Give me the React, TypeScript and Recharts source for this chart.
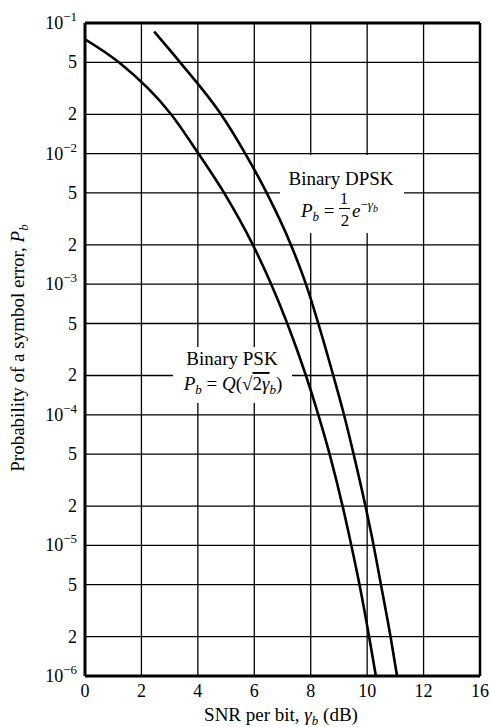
import React from 'react';
import { LineChart, Line, XAxis, YAxis, CartesianGrid, ReferenceLine } from 'recharts';

// SNR per bit (dB) and error probability
const bpskSnr = [0, 1.2, 3.05, 4.02, 4.93, 5.95, 6.6, 7.17, 7.83, 8.27, 8.67, 9.13, 9.44, 9.73, 10.07, 10.31];
const bpskPb = [0.075, 0.05, 0.02, 0.01, 0.005, 0.002, 0.001, 5e-4, 2e-4, 1e-4, 5e-5, 2e-5, 1e-5, 5e-6, 2e-6, 1e-6];

const dpskSnr = [2.45, 3.37, 4.82, 5.68, 6.44, 7.3, 7.83, 8.27, 8.8, 9.18, 9.52, 9.94, 10.23, 10.49, 10.83, 11.06];
const dpskPb = [0.086, 0.05, 0.02, 0.01, 0.005, 0.002, 0.001, 5e-4, 2e-4, 1e-4, 5e-5, 2e-5, 1e-5, 5e-6, 2e-6, 1e-6];

const xTicks = [0, 2, 4, 6, 8, 10, 12, 14];
const xTickLabels = ['0', '2', '4', '6', '8', '10', '12', '16'];
const yTicks = [1e-6, 2e-6, 5e-6, 1e-5, 2e-5, 5e-5, 1e-4, 2e-4, 5e-4, 1e-3, 2e-3, 5e-3, 1e-2, 2e-2, 5e-2, 1e-1];

const bpsk = bpskSnr.map((x, i) => ({ x, p: bpskPb[i] }));
const dpsk = dpskSnr.map((x, i) => ({ x, p: dpskPb[i] }));

const FONT = '"Liberation Serif", "Times New Roman", serif';

function YTick({ x, y, payload }: any) {
  const v: number = payload.value;
  const exp = Math.floor(Math.log10(v) + 1e-9);
  const mant = Math.round(v / Math.pow(10, exp));
  if (mant === 1) {
    return (
      <text x={x} y={y + 6} textAnchor="end" fontFamily={FONT} fontSize={18} fill="#000">
        <tspan>10</tspan>
        <tspan dy={-8} fontSize={13}>{'\u2212' + Math.abs(exp)}</tspan>
      </text>
    );
  }
  return (
    <text x={x} y={y + 6} textAnchor="end" fontFamily={FONT} fontSize={18} fill="#000">
      {mant}
    </text>
  );
}

export default function App() {
  return (
    <div style={{ position: 'absolute', left: 0, top: 0, background: '#fff' }}>
      <LineChart width={490} height={727} margin={{ top: 23, right: 10, left: 0, bottom: 0 }}>
        <CartesianGrid stroke="#000" strokeWidth={1.3} />
        <XAxis
          type="number"
          dataKey="x"
          domain={[0, 14]}
          ticks={xTicks}
          tickFormatter={(v: number) => xTickLabels[xTicks.indexOf(v)]}
          allowDataOverflow
          height={51}
          tickLine={false}
          axisLine={{ stroke: '#000', strokeWidth: 3 }}
          tick={{ fill: '#000', fontSize: 18, fontFamily: FONT }}
        />
        <YAxis
          type="number"
          scale="log"
          domain={[1e-6, 1e-1]}
          ticks={yTicks}
          allowDataOverflow
          width={85}
          tickLine={false}
          axisLine={{ stroke: '#000', strokeWidth: 3 }}
          tick={<YTick />}
        />
        <ReferenceLine y={1e-1} stroke="#000" strokeWidth={3} />
        <ReferenceLine x={14} stroke="#000" strokeWidth={2.5} />

        {/* label boxes that break the grid */}
        <rect x={280} y={155} width={124} height={78} fill="#fff" />
        <rect x={173} y={347} width={119} height={56} fill="#fff" />

        <Line data={bpsk} dataKey="p" type="monotone" stroke="#000" strokeWidth={2.6} dot={false} isAnimationActive={false} />
        <Line data={dpsk} dataKey="p" type="monotone" stroke="#000" strokeWidth={2.6} dot={false} isAnimationActive={false} />

        <g fontFamily={FONT} fill="#000">
          <text x={341} y={185} textAnchor="middle" fontSize={19}>Binary DPSK</text>
          <text x={301} y={217} fontSize={19}>
            <tspan fontStyle="italic">P</tspan>
            <tspan fontStyle="italic" fontSize={13} dy={4}>b</tspan>
            <tspan dy={-4}> = </tspan>
          </text>
          <text x={344} y={204} textAnchor="middle" fontSize={16}>1</text>
          <line x1={339} x2={350} y1={208.5} y2={208.5} stroke="#000" strokeWidth={1} />
          <text x={345} y={226} textAnchor="middle" fontSize={17}>2</text>
          <text x={352} y={217} fontSize={19}>
            <tspan fontStyle="italic">e</tspan>
            <tspan fontSize={13} dy={-8}>{'\u2212'}</tspan>
            <tspan fontSize={13} fontStyle="italic">{'\u03b3'}</tspan>
            <tspan fontSize={10} fontStyle="italic" dy={3}>b</tspan>
          </text>

          <text x={232} y={365} textAnchor="middle" fontSize={19}>Binary PSK</text>
          <text x={233} y={390} textAnchor="middle" fontSize={19}>
            <tspan fontStyle="italic">P</tspan>
            <tspan fontStyle="italic" fontSize={13} dy={4}>b</tspan>
            <tspan dy={-4}> = </tspan>
            <tspan fontStyle="italic">Q</tspan>
            <tspan>({'\u221a'}</tspan>
            <tspan textDecoration="overline">2</tspan>
            <tspan fontStyle="italic" textDecoration="overline">{'\u03b3'}</tspan>
            <tspan fontStyle="italic" fontSize={13} dy={4}>b</tspan>
            <tspan dy={-4}>)</tspan>
          </text>

          <text x={281} y={721} textAnchor="middle" fontSize={19}>
            <tspan>SNR per bit, </tspan>
            <tspan fontStyle="italic">{'\u03b3'}</tspan>
            <tspan fontStyle="italic" fontSize={13} dy={4}>b</tspan>
            <tspan dy={-4}> (dB)</tspan>
          </text>

          <text x={24} y={348} textAnchor="middle" fontSize={19} transform="rotate(-90, 24, 348)">
            <tspan>Probability of a symbol error, </tspan>
            <tspan fontStyle="italic">P</tspan>
            <tspan fontStyle="italic" fontSize={13} dy={4}>b</tspan>
          </text>
        </g>
      </LineChart>
    </div>
  );
}
